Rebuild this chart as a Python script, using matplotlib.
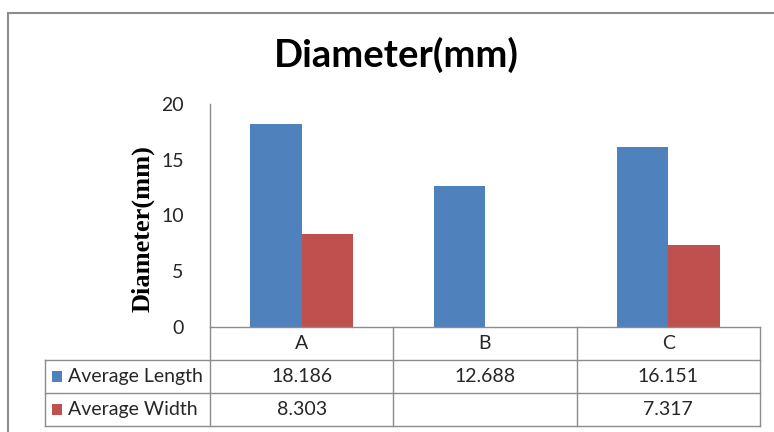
import numpy as np
import matplotlib
matplotlib.use('Agg')
import matplotlib.pyplot as plt
from matplotlib.patches import Rectangle

# data
categories = ['A', 'B', 'C']
series_names = ['Average Length', 'Average Width']
avg_length = [18.186, 12.688, 16.151]
avg_width = [8.303, np.nan, 7.317]
yticks = [0, 5, 10, 15, 20]

colors = ['#4F81BD', '#C0504D']
grid_color = '#8c8c8c'
text_color = '#262626'
plt.rcParams['font.family'] = ['Lato', 'DejaVu Sans']

fig = plt.figure(figsize=(7.74, 4.32), dpi=100)

# outer chart frame (right and bottom run off the picture)
fig.add_artist(Rectangle((8 / 774, -0.2), 1.2, 0.2 + 1 - 13 / 432,
                         transform=fig.transFigure, fill=False,
                         edgecolor=grid_color, linewidth=1.5))

ax = fig.add_axes([210 / 774, (432 - 327) / 432, 550 / 774, 223 / 432])

x = np.arange(len(categories))
bw = 0.28
ax.bar(x - bw / 2, avg_length, bw, color=colors[0])
ax.bar(x + bw / 2, avg_width, bw, color=colors[1])

ax.set_xlim(-0.5, len(categories) - 0.5)
ax.set_ylim(0, 20)
ax.set_yticks(yticks)
ax.set_yticklabels([str(t) for t in yticks], fontsize=14, color=text_color)
ax.tick_params(axis='y', length=0, pad=19)
ax.set_xticks([])
for s in ['top', 'right']:
    ax.spines[s].set_visible(False)
for s in ['left', 'bottom']:
    ax.spines[s].set_color(grid_color)
    ax.spines[s].set_linewidth(1.0)

ax.set_ylabel('Diameter(mm)', family='Liberation Serif', fontweight='bold',
              fontsize=19)
ax.yaxis.set_label_coords(-0.10, 0.44)
fig.text(396 / 774, 1 - 55 / 432, 'Diameter(mm)', ha='center', va='center',
         fontsize=27.5, fontweight='bold', color='black')

# data table under the plot (x in data units, y in axes fraction)
tr = ax.get_xaxis_transform()
row_h = 33 / 223
left = -0.5 - 165 / (550 / 3)
lk = dict(color=grid_color, linewidth=1.0, transform=tr, clip_on=False)

for i in range(1, 4):
    ax.plot([left, 2.5], [-i * row_h, -i * row_h], **lk)
ax.plot([left, left], [-row_h, -3 * row_h], **lk)
ax.plot([-0.5, -0.5], [0, -3 * row_h], **lk)
for xb in [0.5, 1.5, 2.5]:
    ax.plot([xb, xb], [0, -3 * row_h], **lk)

for i, c in enumerate(categories):
    ax.text(i, -0.5 * row_h, c, ha='center', va='center', fontsize=14,
            color=text_color, transform=tr)

for r, (name, vals) in enumerate(zip(series_names, [avg_length, avg_width])):
    yc = -(r + 1.5) * row_h
    ax.add_patch(Rectangle((left + 0.04, yc - 0.025), 0.055, 0.05,
                           facecolor=colors[r], edgecolor='none',
                           transform=tr, clip_on=False))
    ax.text(left + 0.125, yc, name, ha='left', va='center', fontsize=14,
            color=text_color, transform=tr)
    for i, v in enumerate(vals):
        if not np.isnan(v):
            ax.text(i, yc, f'{v:.3f}', ha='center', va='center', fontsize=14,
                    color=text_color, transform=tr)

plt.savefig('out.png', dpi=100)
